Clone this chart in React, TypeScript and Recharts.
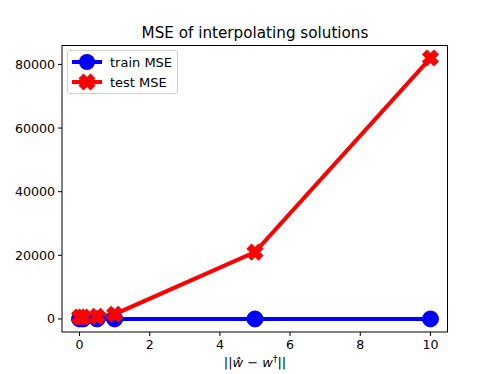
import React from "react";
import { LineChart, Line, XAxis, YAxis } from "recharts";

const xValues = [0, 0.1, 0.5, 1, 5, 10];
const trainMSE = [0, 0, 0, 0, 0, 0];
const testMSE = [600, 600, 800, 1500, 21000, 82000];
const xTicks = [0, 2, 4, 6, 8, 10];
const yTicks = [0, 20000, 40000, 60000, 80000];

const data = xValues.map((x, i) => ({ x, train: trainMSE[i], test: testMSE[i] }));

const FONT = "DejaVu Sans, sans-serif";

const crossPath = (cx: number, cy: number, s: number) => {
  const a = s;
  const w = s * 0.42;
  const plus: [number, number][] = [
    [-w, -a], [w, -a], [w, -w], [a, -w], [a, w], [w, w], [w, a], [-w, a], [-w, w], [-a, w], [-a, -w], [-w, -w],
  ];
  const c = Math.SQRT1_2;
  return (
    "M" +
    plus
      .map(([px, py]) => `${(cx + (px - py) * c).toFixed(2)},${(cy + (px + py) * c).toFixed(2)}`)
      .join("L") +
    "Z"
  );
};

const CircleDot = (props: any) => {
  const { cx, cy } = props;
  if (cx == null || cy == null) return null;
  return <circle key={`c-${props.index}`} cx={cx} cy={cy} r={8} fill="#0000ff" stroke="#0000ff" />;
};

const CrossDot = (props: any) => {
  const { cx, cy } = props;
  if (cx == null || cy == null) return null;
  return <path key={`x-${props.index}`} d={crossPath(cx, cy, 8.5)} fill="#ff0000" />;
};

const legendItems = [
  { label: "train MSE", color: "#0000ff", type: "circle" },
  { label: "test MSE", color: "#ff0000", type: "cross" },
];

export default function App() {
  return (
    <div style={{ position: "absolute", left: 0, top: 0, width: 498, height: 374, background: "#fff" }}>
      <div
        style={{
          position: "absolute",
          left: 62,
          width: 386,
          top: 24,
          textAlign: "center",
          fontFamily: FONT,
          fontSize: 15.2,
          color: "#000",
        }}
      >
        MSE of interpolating solutions
      </div>
      <LineChart
        width={498}
        height={374}
        data={data}
        margin={{ top: 45, right: 50, bottom: 0, left: 0 }}
      >
        <XAxis
          dataKey="x"
          type="number"
          domain={[-0.5, 10.5]}
          ticks={xTicks}
          allowDataOverflow
          stroke="#000"
          tickSize={4}
          tickMargin={4}
          tick={{ fill: "#000", fontFamily: FONT, fontSize: 12.6 }}
          height={42}
        />
        <YAxis
          type="number"
          domain={[-4100, 86100]}
          ticks={yTicks}
          allowDataOverflow
          stroke="#000"
          tickSize={4}
          tickMargin={3}
          width={62}
          tick={{ fill: "#000", fontFamily: FONT, fontSize: 12.6 }}
        />
        <Line
          dataKey="train"
          name="train MSE"
          stroke="#0000ff"
          strokeWidth={4}
          dot={<CircleDot />}
          activeDot={false}
          isAnimationActive={false}
        />
        <Line
          dataKey="test"
          name="test MSE"
          stroke="#ff0000"
          strokeWidth={4}
          dot={<CrossDot />}
          activeDot={false}
          isAnimationActive={false}
        />
      </LineChart>
      {/* top and right spines */}
      <div
        style={{
          position: "absolute",
          left: 62,
          top: 45,
          width: 386,
          height: 287,
          borderTop: "1px solid #000",
          borderRight: "1px solid #000",
          boxSizing: "border-box",
          pointerEvents: "none",
        }}
      />
      <div
        style={{
          position: "absolute",
          left: 67,
          top: 50,
          border: "1px solid #d0d0d0",
          borderRadius: 3,
          background: "rgba(255,255,255,0.8)",
          padding: "1px 5px 1px 3px",
          fontFamily: FONT,
          fontSize: 13,
          whiteSpace: "nowrap",
        }}
      >
        {legendItems.map((e) => (
          <div key={e.label} style={{ display: "flex", alignItems: "center", height: 20 }}>
            <svg width={32} height={18} style={{ marginRight: 7 }}>
              <line x1={1} y1={9} x2={31} y2={9} stroke={e.color} strokeWidth={4} />
              {e.type === "circle" ? (
                <circle cx={16} cy={9} r={8} fill={e.color} />
              ) : (
                <path d={crossPath(16, 9, 8.5)} fill={e.color} />
              )}
            </svg>
            <span style={{ color: "#000" }}>{e.label}</span>
          </div>
        ))}
      </div>
      <div
        style={{
          position: "absolute",
          left: 62,
          width: 386,
          top: 355,
          textAlign: "center",
          fontFamily: FONT,
          fontSize: 13,
          color: "#000",
        }}
      >
        ||<i>ŵ</i> − <i>w</i>
        <sup style={{ fontSize: 9, lineHeight: 0 }}>†</sup>||
      </div>
    </div>
  );
}
